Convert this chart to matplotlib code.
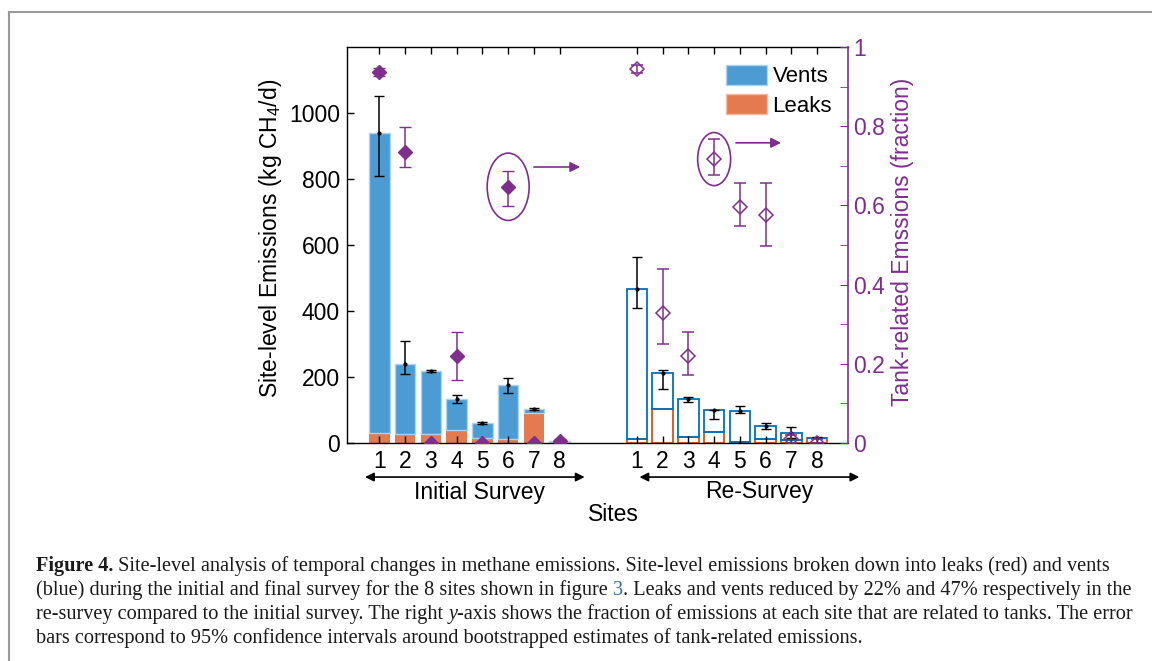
import numpy as np
import matplotlib.pyplot as plt
import matplotlib.patches as mpatches
from matplotlib.lines import Line2D
from matplotlib.ticker import MultipleLocator, FuncFormatter

plt.rcParams['font.family'] = ['Liberation Sans', 'DejaVu Sans']
plt.rcParams['mathtext.default'] = 'regular'

# site-level emissions (kg CH4/d), initial survey
init_total = np.array([940, 238, 219, 133, 62, 176, 103, 6])
init_leaks = np.array([29, 26, 26, 39, 14, 12, 90, 2])
init_ci_lo = np.array([810, 208, 216, 122, 59, 152, 100, 5])
init_ci_hi = np.array([1052, 308, 222, 144, 65, 196, 106, 7])

# re-survey
re_total = np.array([466, 213, 132, 100, 98, 51, 31, 16])
re_leaks = np.array([12, 103, 19, 34, 3, 13, 10, 14])
re_ci_lo = np.array([408, 164, 125, 72, 90, 42, 14, 14])
re_ci_hi = np.array([565, 221, 138, 101, 113, 60, 49, 17])

# tank-related fraction of emissions
init_frac = np.array([0.936, 0.736, 0.0, 0.22, 0.0, 0.647, 0.0, 0.005])
init_frac_lo = np.array([0.926, 0.697, 0.0, 0.16, 0.0, 0.598, 0.0, 0.0])
init_frac_hi = np.array([0.946, 0.797, 0.0, 0.28, 0.0, 0.687, 0.0, 0.01])
re_frac = np.array([0.944, 0.329, 0.22, 0.717, 0.597, 0.577, 0.01, 0.0])
re_frac_lo = np.array([0.934, 0.25, 0.172, 0.677, 0.548, 0.498, 0.0, 0.0])
re_frac_hi = np.array([0.954, 0.439, 0.28, 0.767, 0.657, 0.657, 0.02, 0.01])

site_labels = ['1', '2', '3', '4', '5', '6', '7', '8']
x_init = np.arange(1, 9)
x_re = x_init + 10

blue = '#0072BD'
orange = '#D95319'
purple = '#7E2F8E'
blue_fill = '#4C9CD3'
orange_fill = '#E47B50'

fig = plt.figure(figsize=(11.52, 6.61), dpi=100)
ax = fig.add_axes([347 / 1152, 1 - 443 / 661, 501 / 1152, 396 / 661])

# initial survey: filled stacked bars
ax.bar(x_init, init_leaks, 0.8, color=orange_fill, lw=0)
ax.bar(x_init, init_total - init_leaks, 0.8, bottom=init_leaks, color=blue_fill,
       edgecolor='#A9D3F0', lw=1)
# re-survey: outlined stacked bars
ax.bar(x_re, re_leaks, 0.8, facecolor='none', edgecolor=orange, lw=1.3)
ax.bar(x_re, re_total - re_leaks, 0.8, bottom=re_leaks, facecolor='none',
       edgecolor=blue, lw=1.3)

ax.errorbar(x_init, init_total, yerr=[init_total - init_ci_lo, init_ci_hi - init_total],
            fmt='.', color='k', ms=4, capsize=3.5, lw=1.1)
ax.errorbar(x_re, re_total, yerr=[re_total - re_ci_lo, re_ci_hi - re_total],
            fmt='.', color='k', ms=4, capsize=3.5, lw=1.1)

ax.set_xlim(-0.26, 19.2)
ax.set_ylim(0, 1200)
ax.set_xticks(np.concatenate([x_init, x_re]))
ax.set_xticklabels(site_labels * 2)
ax.set_yticks(range(0, 1001, 200))
ax.tick_params(direction='in', length=5, width=1, labelsize=16.5, top=True, right=False, pad=5)
ax.spines['right'].set_visible(False)
for s in ['left', 'top', 'bottom']:
    ax.spines[s].set_linewidth(1)

legend_handles = [mpatches.Patch(facecolor=blue_fill, edgecolor='#A9D3F0', label='Vents'),
                  mpatches.Patch(facecolor=orange_fill, edgecolor='#F2B9A0', label='Leaks')]
ax.legend(handles=legend_handles, loc='upper left', bbox_to_anchor=(0.756, 0.955),
          frameon=False, fontsize=16, borderpad=0, borderaxespad=0, handlelength=1.85,
          handleheight=1.0, labelspacing=0.3, handletextpad=0.25)

# right axis: tank-related fraction
ax2 = ax.twinx()
ax2.set_ylim(0, 1)
ax2.errorbar(x_init, init_frac, yerr=[init_frac - init_frac_lo, init_frac_hi - init_frac],
             fmt='D', color=purple, mfc=purple, ms=7, capsize=4, lw=1.1)
ax2.errorbar(x_re, re_frac, yerr=[re_frac - re_frac_lo, re_frac_hi - re_frac],
             fmt='D', color=purple, mfc='none', mew=1.1, ms=7, capsize=4, lw=1.1)
ax2.yaxis.set_major_locator(MultipleLocator(0.2))
ax2.yaxis.set_minor_locator(MultipleLocator(0.1))
ax2.yaxis.set_major_formatter(FuncFormatter(lambda v, p: '%g' % round(v, 2)))
ax2.tick_params(axis='y', which='major', colors=purple, direction='in', length=6, labelsize=16.5)
ax2.tick_params(axis='y', which='minor', colors=purple, direction='in', length=6)
for s in ['left', 'top', 'bottom']:
    ax2.spines[s].set_visible(False)
ax2.spines['right'].set_color(purple)
ax2.spines['right'].set_linewidth(1.2)

# highlight ellipses with arrows pointing to the right axis
ax2.add_patch(mpatches.Ellipse((x_init[5], init_frac[5]), 1.63, 0.17, fill=False,
                               ec=purple, lw=1.2))
ax2.annotate('', xy=(8.8, 0.697), xytext=(7.0, 0.697),
             arrowprops=dict(arrowstyle='-|>', color=purple, lw=1.2, mutation_scale=15,
                             shrinkA=0, shrinkB=0))
ax2.add_patch(mpatches.Ellipse((x_re[3], re_frac[3]), 1.28, 0.134, fill=False,
                               ec=purple, lw=1.2))
ax2.annotate('', xy=(16.6, 0.758), xytext=(14.85, 0.758),
             arrowprops=dict(arrowstyle='-|>', color=purple, lw=1.2, mutation_scale=15,
                             shrinkA=0, shrinkB=0))

# axis labels
fig.text(271 / 1152, 1 - 238 / 661, 'Site-level Emissions (kg CH$_4$/d)', rotation=90,
         ha='center', va='center', fontsize=16.5)
fig.text(902 / 1152, 1 - 242 / 661, 'Tank-related Emssions (fraction)', rotation=90,
         ha='center', va='center', fontsize=16.5, color=purple)
ax.set_xlabel('Sites', fontsize=16.5)
ax.xaxis.set_label_coords(0.531, -0.152)

# survey ranges under the axis
arrow_kw = dict(arrowstyle='<|-|>', color='k', lw=1.2, mutation_scale=13, shrinkA=0, shrinkB=0)
ax.annotate('', xy=(8.97, -0.086), xytext=(0.44, -0.086), xycoords=('data', 'axes fraction'),
            textcoords=('data', 'axes fraction'), arrowprops=arrow_kw, annotation_clip=False)
ax.annotate('', xy=(19.64, -0.086), xytext=(11.1, -0.086), xycoords=('data', 'axes fraction'),
            textcoords=('data', 'axes fraction'), arrowprops=arrow_kw, annotation_clip=False)
ax.text(4.9, -0.124, 'Initial Survey', transform=ax.get_xaxis_transform(), ha='center',
        va='center', fontsize=16.5)
ax.text(15.77, -0.122, 'Re-Survey', transform=ax.get_xaxis_transform(), ha='center',
        va='center', fontsize=16.5)

# page frame
fig.add_artist(Line2D([9 / 1152, 9 / 1152], [0, 1 - 12 / 661], color='#9A9A9A', lw=1.5))
fig.add_artist(Line2D([9 / 1152, 1], [1 - 12 / 661, 1 - 12 / 661], color='#9A9A9A', lw=1.5))

# caption, written piece by piece so that font styles and colours can change
renderer = fig.canvas.get_renderer()
cap_kw = dict(fontfamily=['Liberation Serif', 'DejaVu Serif'], fontsize=14.6, va='baseline',
              color='#1A1A1A')


def piece_width(txt, kw):
    t1 = fig.text(0, 0, txt + '|', **{**cap_kw, **kw})
    t2 = fig.text(0, 0, '|', **{**cap_kw, **kw})
    w = t1.get_window_extent(renderer).width - t2.get_window_extent(renderer).width
    t1.remove()
    t2.remove()
    return w


def caption_line(y_px, parts):
    x_px = 36
    for txt, kw in parts:
        fig.text(x_px / 1152, 1 - y_px / 661, txt, **{**cap_kw, **kw})
        x_px += piece_width(txt, kw)


caption_line(571, [('Figure 4.', dict(fontweight='bold')),
                   (' Site-level analysis of temporal changes in methane emissions. Site-level '
                    'emissions broken down into leaks (red) and vents', {})])
caption_line(595, [('(blue) during the initial and final survey for the 8 sites shown in figure ', {}),
                   ('3', dict(color='#2F6EB5')),
                   ('. Leaks and vents reduced by 22% and 47% respectively in the', {})])
caption_line(619, [('re-survey compared to the initial survey. The right ', {}),
                   ('y', dict(fontstyle='italic')),
                   ('-axis shows the fraction of emissions at each site that are related to '
                    'tanks. The error', {})])
caption_line(643, [('bars correspond to 95% confidence intervals around bootstrapped estimates '
                    'of tank-related emissions.', {})])

fig.savefig('out.png', dpi=100)
